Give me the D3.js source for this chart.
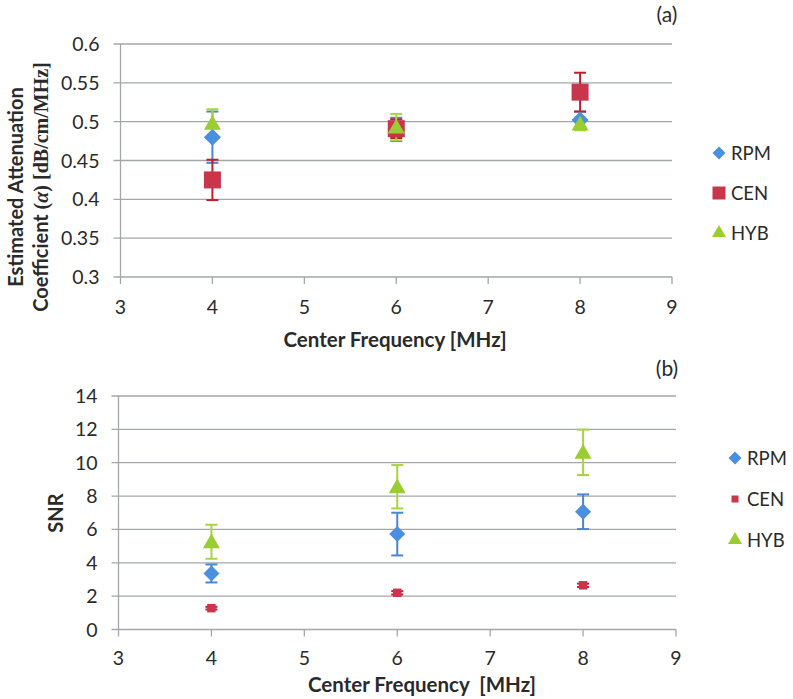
<!DOCTYPE html>
<html><head><meta charset="utf-8">
<script src="https://cdn.jsdelivr.net/npm/d3@7/dist/d3.min.js"></script>
<style>body{margin:0;background:#fff}svg{display:block}</style>
</head><body>
<svg id="c" width="793" height="699"></svg>
<script>
// ---- data ----
const series = ["RPM", "CEN", "HYB"];
const freqs = [4, 6, 8];
const xTicks = [3, 4, 5, 6, 7, 8, 9];

const attRPM = [0.480, 0.490, 0.502];
const attRPMErr = [0.033, 0.015, 0.011];
const attCEN = [0.425, 0.491, 0.538];
const attCENErr = [0.026, 0.012, 0.025];
const attHYB = [0.498, 0.493, 0.497];
const attHYBErr = [0.018, 0.017, 0.008];
const attTicks = [0.3, 0.35, 0.4, 0.45, 0.5, 0.55, 0.6];
const attTickLabels = ["0.3", "0.35", "0.4", "0.45", "0.5", "0.55", "0.6"];

const snrRPM = [3.36, 5.72, 7.06];
const snrRPMErr = [0.54, 1.28, 1.04];
const snrCEN = [1.28, 2.20, 2.65];
const snrCENErr = [0.08, 0.10, 0.10];
const snrHYB = [5.26, 8.56, 10.62];
const snrHYBErr = [1.02, 1.30, 1.36];
const snrTicks = [0, 2, 4, 6, 8, 10, 12, 14];

const colors = {RPM: "#4a8fe0", CEN: "#c8364c", HYB: "#9acd32"};
const errColors = {RPM: "#4a86d8", CEN: "#c01f2e", HYB: "#a5d640"};

const svg = d3.select("#c");
const FONT = "Lato, 'Open Sans', sans-serif";
const TXT = "#2a2a2a";

function markerPath(name, size) {
  if (name === "RPM") return d3.symbol(d3.symbolSquare, (size / Math.SQRT2) ** 2)();
  if (name === "CEN") return d3.symbol(d3.symbolSquare, size * size)();
  return d3.symbol(d3.symbolTriangle, Math.sqrt(3) / 4 * size * size)();
}
function markerTransform(name, x, y) {
  if (name === "RPM") return `translate(${x},${y}) rotate(45)`;
  if (name === "HYB") return `translate(${x},${y + 1.5})`;
  return `translate(${x},${y})`;
}

function panel(cfg) {
  const x = d3.scaleLinear().domain([3, 9]).range([cfg.x0, cfg.x1]);
  const y = d3.scaleLinear().domain(cfg.yDomain).range([cfg.yBottom, cfg.yTop]);
  const g = svg.append("g");

  g.selectAll("line.grid").data(cfg.yTicks).join("line")
    .attr("x1", cfg.x0 - 7).attr("x2", cfg.x1)
    .attr("y1", d => y(d)).attr("y2", d => y(d))
    .attr("stroke", "#a3a7aa").attr("stroke-width", 1.3);
  g.append("line").attr("x1", cfg.x0).attr("x2", cfg.x0)
    .attr("y1", y(cfg.yDomain[1])).attr("y2", y(cfg.yDomain[0]))
    .attr("stroke", "#a3a7aa").attr("stroke-width", 1.3);
  g.selectAll("line.xt").data(xTicks).join("line")
    .attr("x1", d => x(d)).attr("x2", d => x(d))
    .attr("y1", y(cfg.yDomain[0])).attr("y2", y(cfg.yDomain[0]) + 7)
    .attr("stroke", "#a3a7aa").attr("stroke-width", 1.3);

  g.selectAll("text.yl").data(cfg.yTicks).join("text")
    .attr("x", cfg.x0 - 21).attr("y", d => y(d))
    .attr("dy", "0.36em").attr("text-anchor", "end")
    .attr("font-family", FONT).attr("font-size", 19.5).attr("fill", TXT)
    .text((d, i) => cfg.yLabels[i]);
  g.selectAll("text.xl").data(xTicks).join("text")
    .attr("x", d => x(d)).attr("y", cfg.xLabelY)
    .attr("dy", "0.36em").attr("text-anchor", "middle")
    .attr("font-family", FONT).attr("font-size", 19.5).attr("fill", TXT)
    .text(d => d);

  cfg.data.forEach(s => {
    const pts = freqs.map((f, i) => ({f, v: s.values[i], e: s.errs[i]}));
    const eg = g.append("g").attr("stroke", errColors[s.name]).attr("stroke-width", 2);
    pts.forEach(p => {
      eg.append("line").attr("x1", x(p.f)).attr("x2", x(p.f))
        .attr("y1", y(p.v - p.e)).attr("y2", y(p.v + p.e));
      [p.v - p.e, p.v + p.e].forEach(v => {
        eg.append("line").attr("x1", x(p.f) - 6).attr("x2", x(p.f) + 6)
          .attr("y1", y(v)).attr("y2", y(v));
      });
    });
  });
  cfg.data.forEach(s => {
    freqs.forEach((f, i) => {
      g.append("path").attr("d", markerPath(s.name, cfg.sizes[s.name]))
        .attr("transform", markerTransform(s.name, x(f), y(s.values[i])))
        .attr("fill", colors[s.name]);
    });
  });

  series.forEach((name, i) => {
    const ly = cfg.legendY[i];
    g.append("path").attr("d", markerPath(name, cfg.legendSizes[name]))
      .attr("transform", markerTransform(name, cfg.legendX, ly - (name === "HYB" ? 1.5 : 0)))
      .attr("fill", colors[name]);
    g.append("text").attr("x", cfg.legendX + 12).attr("y", ly).attr("dy", "0.36em")
      .attr("font-family", FONT).attr("font-size", 18.5).attr("fill", TXT).text(name);
  });

  g.append("text").attr("x", cfg.tagX).attr("y", cfg.tagY).attr("text-anchor", "middle")
    .attr("font-family", FONT).attr("font-size", 21).attr("fill", TXT).text(cfg.tag);

  g.append("text").attr("x", cfg.xTitleX).attr("y", cfg.xTitleY).attr("text-anchor", "middle")
    .attr("font-family", FONT).attr("font-size", 20.5).attr("font-weight", "bold").attr("fill", TXT)
    .attr("xml:space", "preserve").text(cfg.xTitle);
  return g;
}

panel({
  x0: 120.5, x1: 672, yTop: 44, yBottom: 277, yDomain: [0.3, 0.6],
  yTicks: attTicks, yLabels: attTickLabels, xLabelY: 307,
  data: [
    {name: "RPM", values: attRPM, errs: attRPMErr},
    {name: "CEN", values: attCEN, errs: attCENErr},
    {name: "HYB", values: attHYB, errs: attHYBErr}
  ],
  sizes: {RPM: 17, CEN: 17, HYB: 17},
  legendX: 719, legendY: [153, 193, 233], legendSizes: {RPM: 13, CEN: 13, HYB: 14},
  tag: "(a)", tagX: 667, tagY: 22,
  xTitle: "Center Frequency [MHz]", xTitleX: 395, xTitleY: 347
});

panel({
  x0: 118.5, x1: 676, yTop: 396, yBottom: 629.5, yDomain: [0, 14],
  yTicks: snrTicks, yLabels: snrTicks.map(String), xLabelY: 658,
  data: [
    {name: "RPM", values: snrRPM, errs: snrRPMErr},
    {name: "CEN", values: snrCEN, errs: snrCENErr},
    {name: "HYB", values: snrHYB, errs: snrHYBErr}
  ],
  sizes: {RPM: 16, CEN: 8.5, HYB: 17},
  legendX: 735, legendY: [458, 499, 540], legendSizes: {RPM: 13, CEN: 7, HYB: 14},
  tag: "(b)", tagX: 667, tagY: 376,
  xTitle: "Center Frequency  [MHz]", xTitleX: 422, xTitleY: 692
});

const SERIF = "'Liberation Serif', 'DejaVu Serif', serif";
svg.append("text").attr("transform", "translate(23,187) rotate(-90)")
  .attr("text-anchor", "middle").attr("font-family", FONT).attr("font-size", 20)
  .attr("font-weight", "bold").attr("fill", TXT).text("Estimated Attenuation");
const t2 = svg.append("text").attr("transform", "translate(48,187) rotate(-90)")
  .attr("text-anchor", "middle").attr("font-family", FONT).attr("font-size", 20)
  .attr("font-weight", "bold").attr("fill", TXT);
t2.append("tspan").text("Coefficient ");
t2.append("tspan").attr("font-family", SERIF).text("(");
t2.append("tspan").attr("font-family", SERIF).attr("font-style", "italic").text("α");
t2.append("tspan").attr("font-family", SERIF).text(") [dB/cm/MHz]");

svg.append("text").attr("transform", "translate(63,513) rotate(-90)")
  .attr("text-anchor", "middle").attr("font-family", FONT).attr("font-size", 20)
  .attr("font-weight", "bold").attr("fill", TXT).text("SNR");
</script>
</body></html>
